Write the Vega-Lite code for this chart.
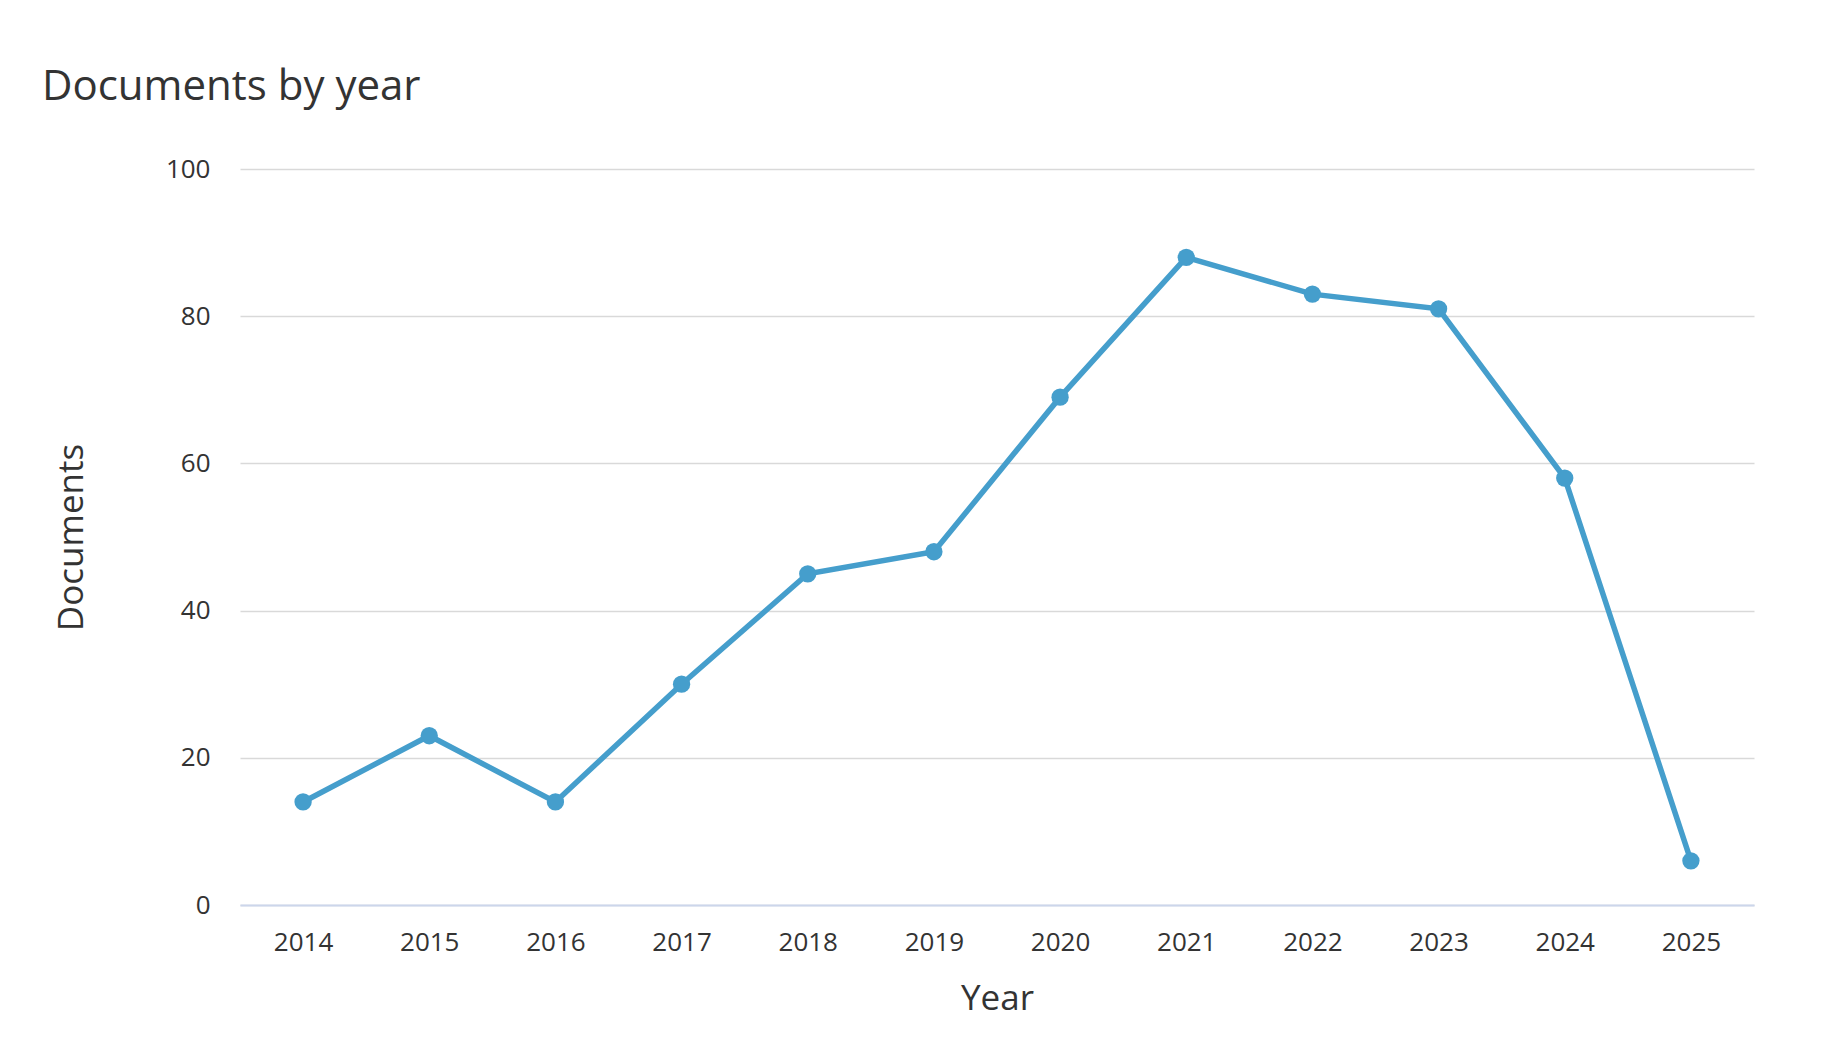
{
  "$schema": "https://vega.github.io/schema/vega-lite/v6.json",
  "autosize": "none",
  "width": 1514,
  "height": 736,
  "padding": {"left": 240, "top": 169, "right": 68, "bottom": 151},
  "background": "white",
  "title": {
    "text": "Documents by year",
    "anchor": "start",
    "frame": "group",
    "font": "Open Sans",
    "fontSize": 42,
    "fontWeight": "normal",
    "color": "#333333",
    "baseline": "alphabetic",
    "dx": -198,
    "offset": 14
  },
  "config": {
    "view": {"stroke": null},
    "font": "Open Sans"
  },
  "data": {
    "values": [
      {"Year": "2014", "Documents": 14},
      {"Year": "2015", "Documents": 23},
      {"Year": "2016", "Documents": 14},
      {"Year": "2017", "Documents": 30},
      {"Year": "2018", "Documents": 45},
      {"Year": "2019", "Documents": 48},
      {"Year": "2020", "Documents": 69},
      {"Year": "2021", "Documents": 88},
      {"Year": "2022", "Documents": 83},
      {"Year": "2023", "Documents": 81},
      {"Year": "2024", "Documents": 58},
      {"Year": "2025", "Documents": 6}
    ]
  },
  "encoding": {
    "x": {
      "field": "Year",
      "type": "ordinal",
      "scale": {"type": "point", "padding": 0.5},
      "axis": {
        "title": "Year",
        "titleFont": "Open Sans",
        "titleFontSize": 35,
        "titleFontWeight": "normal",
        "titleColor": "#333333",
        "titlePadding": 26,
        "labelAngle": 0,
        "labelFont": "Open Sans",
        "labelFontSize": 26,
        "labelColor": "#333333",
        "labelPadding": 24,
        "ticks": false,
        "domainColor": "#ccd6eb",
        "domainWidth": 2,
        "grid": false
      }
    },
    "y": {
      "field": "Documents",
      "type": "quantitative",
      "scale": {"domain": [0, 100], "nice": false},
      "axis": {
        "title": "Documents",
        "titleFont": "Open Sans",
        "titleFontSize": 35,
        "titleFontWeight": "normal",
        "titleColor": "#333333",
        "titlePadding": 76,
        "values": [0, 20, 40, 60, 80, 100],
        "labelFont": "Open Sans",
        "labelFontSize": 26,
        "labelColor": "#333333",
        "labelPadding": 30,
        "ticks": false,
        "domain": false,
        "gridColor": "#d9d9d9",
        "gridWidth": 1.5
      }
    }
  },
  "layer": [
    {
      "mark": {"type": "line", "color": "#459ecc", "strokeWidth": 5.5}
    },
    {
      "mark": {"type": "point", "filled": true, "opacity": 1, "color": "#459ecc", "size": 300}
    }
  ]
}
